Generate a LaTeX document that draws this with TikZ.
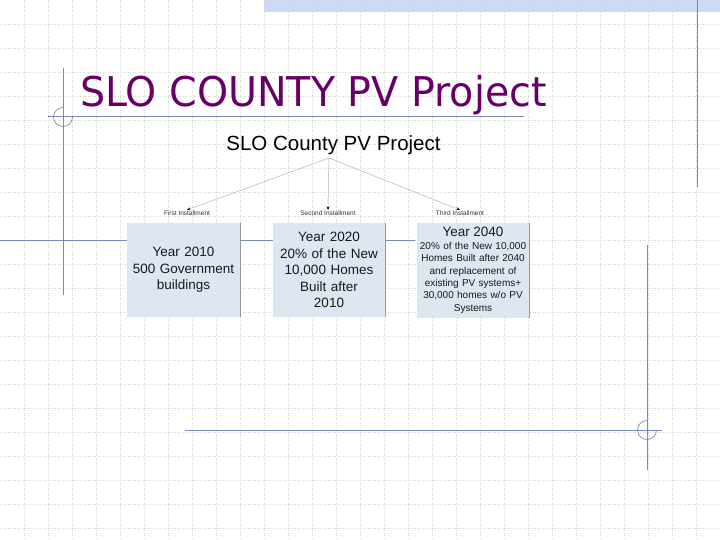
\documentclass[tikz,border=0pt]{standalone}
\usepackage{fontspec}
\setmainfont{Liberation Sans}
\newfontfamily\titlefont[FakeStretch=0.965]{DejaVu Sans}
\usepackage{xcolor}
\usetikzlibrary{positioning,arrows.meta}
\definecolor{slotitle}{RGB}{102,0,102}
\definecolor{slideblue}{RGB}{122,138,178}
\definecolor{slideband}{RGB}{204,217,247}
\definecolor{gridgray}{RGB}{212,212,212}
\definecolor{boxfill}{RGB}{222,230,242}
\definecolor{boxshade}{RGB}{150,150,150}
\tikzstyle{arrow} = [gray!60, line width=0.5pt, -{Stealth[black,length=3.5pt,width=3pt]}]
\tikzstyle{decoline} = [slideblue, line width=1pt]

\begin{document}
\begin{tikzpicture}[x=1pt,y=-1pt]
		\useasboundingbox (0,0) rectangle (720,540);
		\coordinate (titlepos) at (80,107);
		\coordinate (headpos) at (333.5,151);
		\coordinate (apex) at (329,158);
		\coordinate (first) at (187,213);
		\coordinate (second) at (328,213);
		\coordinate (third) at (460,213);
		\coordinate (year1) at (183.5,270);
		\coordinate (year2) at (329,270);
		\coordinate (year3) at (473,270.5);
		\coordinate (mark1) at (63,117);
		\coordinate (mark2) at (647,430);
		% Slide background
		\fill[slideband] (264,0) rectangle (720,12);
		\foreach \x in {24,48,...,696} \draw[gridgray, dotted, line width=0.5pt] (\x,0) -- (\x,540);
		\foreach \y in {24,48,...,528} \draw[gridgray, dotted, line width=0.5pt] (0,\y) -- (720,\y);
		\draw[decoline] (697,0) -- (697,187);
		\draw[decoline] (63,68) -- (63,295);
		\draw[decoline] (48,117) -- (524,117);
		\draw[decoline] (0,240) -- (415,240);
		\draw[decoline] (185,430) -- (662,430);
		\draw[decoline] (647,245) -- (647,470);
		\draw[decoline, line width=0.7pt] ([shift={(90:9.5pt)}]mark1) arc[start angle=90, end angle=360, radius=9.5pt];
		\draw[decoline, line width=0.7pt] ([shift={(90:9.5pt)}]mark2) arc[start angle=90, end angle=360, radius=9.5pt];
		% Titles
		\node[name=title, anchor=base west, inner sep=0, text=slotitle, font=\titlefont\fontsize{41}{41}\selectfont] at (titlepos) {SLO COUNTY PV Project};
		\node[name=heading, anchor=base, inner sep=0, font=\fontsize{20.5}{21}\selectfont] at (headpos) {SLO County PV Project};
		% Installments
		\begin{scope}[every node/.style={inner sep=0.5pt, text=black!80, font=\fontsize{6.5}{7}\selectfont}]
		\node[name=first] at (first) {First Installment};
		\node[name=second] at (second) {Second Installment};
		\node[name=third] at (third) {Third Installment};
		\end{scope}
		% Years
		\begin{scope}[every node/.style={fill=boxfill, rectangle, minimum width=113pt, minimum height=94pt, text width=112pt, align=center, inner sep=0, text=black!90}]
		\node[name=year1, font=\fontsize{13.5}{16.5}\selectfont] at (year1) {Year 2010\\500 Government\\buildings};
		\node[name=year2, font=\fontsize{13.5}{16.5}\selectfont] at (year2) {Year 2020\\20\% of the New\\10,000 Homes\\Built after\\2010};
		\node[name=year3, font=\fontsize{10}{12.4}\selectfont] at (year3) {{\fontsize{13.5}{14}\selectfont Year 2040}\\20\% of the New 10,000\\Homes Built after 2040\\and replacement of\\existing PV systems+\\30,000 homes w/o PV\\Systems};
		\end{scope}
		\draw[boxshade, line width=1.2pt] (year1.north east) -- (year1.south east);
		\draw[boxshade, line width=1.2pt] (year2.north east) -- (year2.south east);
		\draw[boxshade, line width=1.2pt] (year3.north east) -- (year3.south east);
		% Arrows
		\draw [arrow] (apex) -- (first.north);
		\draw [arrow] (apex) -- (second.north);
		\draw [arrow] (apex) -- (third.north);
\end{tikzpicture}
\end{document}
